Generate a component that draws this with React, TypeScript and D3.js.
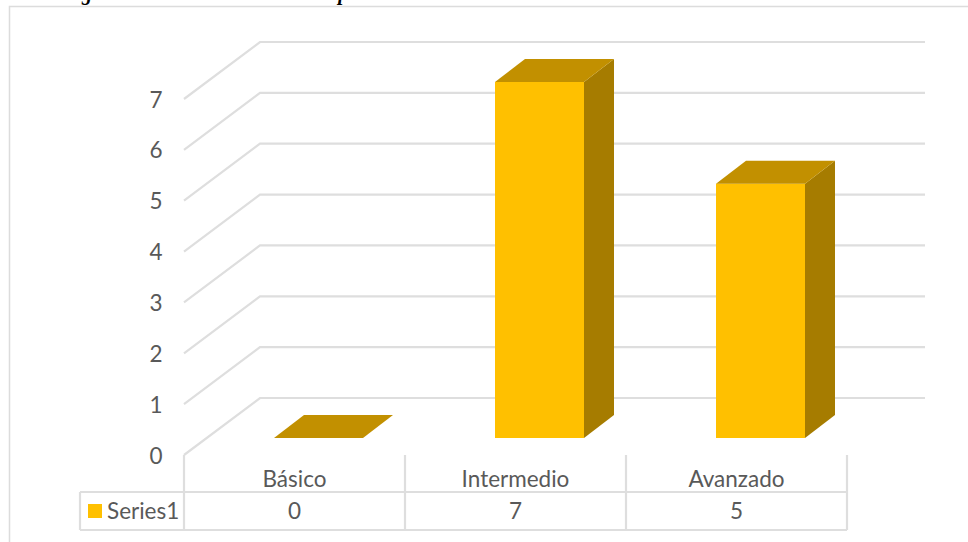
import React, { useEffect, useRef } from 'react';
import * as d3 from 'd3';

const categories = ['Básico', 'Intermedio', 'Avanzado'];
const values = [0, 7, 5];
const yTicks = [0, 1, 2, 3, 4, 5, 6, 7];
const seriesName = 'Series1';

const width = 968;
const height = 542;
const font = 'Lato, sans-serif';
const fontSize = 22.5;

export default function App() {
  const svgRef = useRef<SVGSVGElement>(null);

  useEffect(() => {
    if (!svgRef.current) return;
    const svg = d3.select(svgRef.current);
    svg.selectAll('*').remove();

    // Frame
    svg.append('path')
      .attr('d', 'M9.5,542V6.5H968')
      .attr('fill', 'none')
      .attr('stroke', '#dcdcdc')
      .attr('stroke-width', 1.5);

    // Caption, cut by the top of the picture in the source
    svg.append('text')
      .attr('x', 63)
      .attr('y', 0)
      .attr('font-family', '"Liberation Serif", serif')
      .attr('font-size', 20.2)
      .attr('font-weight', 'bold')
      .attr('font-style', 'italic')
      .attr('fill', '#000')
      .text('Figura 1: Nivel de conocimiento por');

    const x = d3.scaleBand<string>().domain(categories).range([184, 847]);
    const y = d3.scaleLinear().domain([0, 7]).range([398, 42]);
    const depthX = 76;
    const depthY = 57;

    // Floor is offset from the back wall
    const grid = svg.append('g').attr('fill', 'none').attr('stroke', '#dedede').attr('stroke-width', 2.2);
    yTicks.forEach((t) => {
      grid.append('polyline')
        .attr('points', `${260 - depthX},${y(t) + depthY} 260,${y(t)} 925,${y(t)}`);
    });

    // Y labels
    svg.append('g')
      .selectAll('text')
      .data(yTicks)
      .enter()
      .append('text')
      .attr('x', 156)
      .attr('y', (d) => y(d) + depthY + 8.5)
      .attr('text-anchor', 'middle')
      .attr('font-family', font)
      .attr('font-size', fontSize)
      .attr('fill', '#595959')
      .text((d) => d);

    // Bars
    const barW = 89;
    const shiftX = 24;
    const barDX = 30;
    const barDY = 23;
    const baseY = y(0) + 40;
    const bars = svg.append('g').selectAll('g').data(categories).enter().append('g');
    bars.each(function (c, i) {
      const g = d3.select(this);
      const left = x(c)! + x.bandwidth() / 2 + shiftX - barW / 2;
      const right = left + barW;
      const top = baseY - (y(0) - y(values[i]));
      if (values[i] > 0) {
        g.append('rect')
          .attr('x', left)
          .attr('y', top)
          .attr('width', barW)
          .attr('height', baseY - top)
          .attr('fill', '#ffc000');
        g.append('polygon')
          .attr('points', `${right},${top} ${right + barDX},${top - barDY} ${right + barDX},${baseY - barDY} ${right},${baseY}`)
          .attr('fill', '#a67c00');
      }
      g.append('polygon')
        .attr('points', `${left},${top} ${left + barDX},${top - barDY} ${right + barDX},${top - barDY} ${right},${top}`)
        .attr('fill', '#c29000');
    });

    // Data table
    const tableTop = 492;
    const tableBottom = 530;
    const tableLeft = 80;
    const table = svg.append('g').attr('fill', 'none').attr('stroke', '#dedede').attr('stroke-width', 2.2);
    table.append('path').attr('d', `M${tableLeft},${tableTop}H847M${tableLeft},${tableBottom}H847M${tableLeft},${tableTop}V${tableBottom}`);
    [...categories.map((c) => x(c)!), 847].forEach((v) => {
      table.append('line').attr('x1', v).attr('x2', v).attr('y1', 455).attr('y2', tableBottom);
    });

    const label = (t: string | number, cx: number, cy: number, anchor = 'middle') =>
      svg.append('text')
        .attr('x', cx)
        .attr('y', cy)
        .attr('text-anchor', anchor)
        .attr('font-family', font)
        .attr('font-size', fontSize)
        .attr('fill', '#595959')
        .text(t);

    categories.forEach((c, i) => {
      const cx = x(c)! + x.bandwidth() / 2;
      label(c, cx, 486.5);
      label(values[i], cx, 518.5);
    });

    // Legend key
    svg.append('rect').attr('x', 88).attr('y', 504).attr('width', 14).attr('height', 14).attr('fill', '#ffc000');
    label(seriesName, 107, 518.5, 'start');
  }, []);

  return (
    <svg
      ref={svgRef}
      width={width}
      height={height}
      style={{ position: 'fixed', left: 0, top: 0, background: '#fff' }}
    />
  );
}
